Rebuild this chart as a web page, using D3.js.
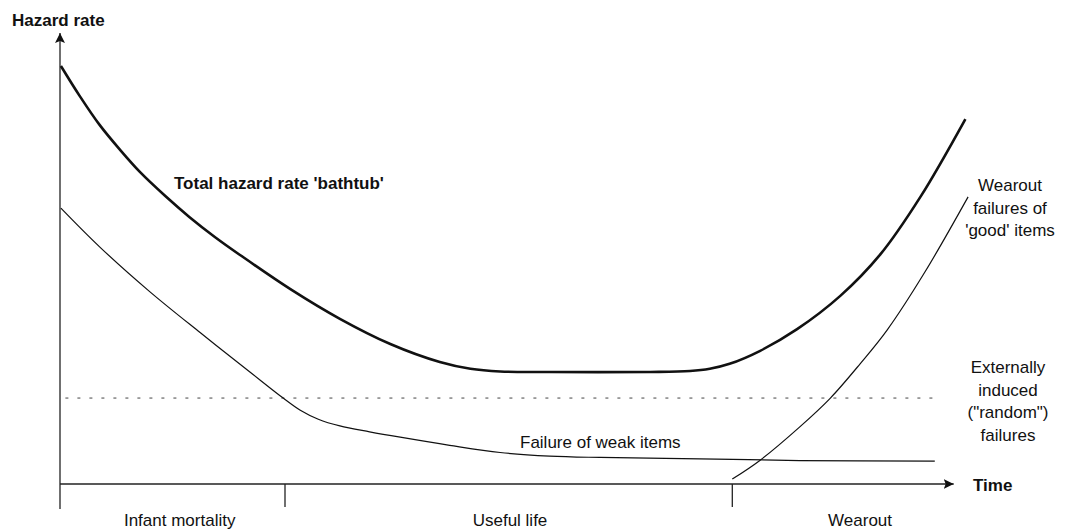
<!DOCTYPE html>
<html>
<head>
<meta charset="utf-8">
<script src="https://cdn.jsdelivr.net/npm/d3@7"></script>
<style>
  html, body { margin: 0; padding: 0; background: #fff; }
  svg { display: block; }
  text { font-family: "Liberation Sans", Arial, Helvetica, sans-serif; fill: #111; }
</style>
</head>
<body>
<svg id="chart" width="1072" height="529"></svg>
<script>
// ---- data (abstract time / hazard units) ----
const bathtubTime   = [0.1, 2.2, 4.4, 6.7, 8.9, 11.7, 14.4, 17.2, 20, 25.6, 31.1, 36.7, 42.2, 45.6, 48.9, 54.4, 65.6, 70, 72.2, 74.4, 77.8, 81.9, 86.7, 91.1, 95.6, 100.6];
const bathtubHazard = [92.9, 86.2, 79.8, 74.2, 69.3, 64, 59.3, 54.9, 50.9, 43.3, 36.7, 31.1, 27.1, 25.6, 25, 24.9, 24.9, 25.1, 25.6, 26.7, 29.6, 34.4, 41.8, 50.9, 63.8, 81.1];

const weakTime   = [0.1, 4.4, 10, 15.6, 21.1, 24.8, 26.7, 28.7, 31.1, 34.4, 37.8, 43.3, 48.9, 54.4, 60, 71.1, 82.2, 97.2];
const weakHazard = [61.3, 52.7, 42.7, 33.6, 24.9, 19.1, 16.4, 14.4, 12.9, 11.6, 10.4, 8.6, 7, 6.2, 5.9, 5.6, 5.2, 5.1];

const wearTime   = [74.7, 77.8, 82.2, 85.6, 88.9, 91.9, 96.1, 100.9];
const wearHazard = [1.1, 5.3, 12.7, 19.1, 26.7, 34.2, 47.1, 63.8];

const randomLevel = 19.1;
const randomSpan  = [0.6, 97.2];

const phaseBounds = [25, 74.7];
const phaseLabels = ["Infant mortality", "Useful life", "Wearout"];
const phaseLabelX = [13.3, 50, 88.9];

const axisLabels = { y: "Hazard rate", x: "Time" };
const curveLabels = {
  bathtub: "Total hazard rate 'bathtub'",
  weak: "Failure of weak items",
  wear: ["Wearout", "failures of", "'good' items"],
  random: ["Externally", "induced", "(\"random\")", "failures"]
};

// ---- scales ----
const x = d3.scaleLinear().domain([0, 100]).range([60, 960]);
const y = d3.scaleLinear().domain([0, 100]).range([484, 34]);

const svg = d3.select("#chart");

svg.append("defs").append("marker")
  .attr("id", "arrow").attr("viewBox", "0 0 10 10")
  .attr("refX", 10).attr("refY", 5)
  .attr("markerWidth", 10).attr("markerHeight", 10)
  .attr("markerUnits", "userSpaceOnUse")
  .attr("orient", "auto")
  .append("path").attr("d", "M0,0 L10,5 L0,10 L2,5 Z").attr("fill", "#111");

// axes
const axisG = svg.append("g").attr("stroke", "#222").attr("stroke-width", 1.3).attr("fill", "none");
axisG.append("line")
  .attr("x1", x(0)).attr("y1", y(0) + 25)
  .attr("x2", x(0)).attr("y2", y(100) - 1)
  .attr("marker-end", "url(#arrow)");
axisG.append("line")
  .attr("x1", x(0)).attr("y1", y(0))
  .attr("x2", x(99.3)).attr("y2", y(0))
  .attr("marker-end", "url(#arrow)");
axisG.selectAll("line.phase").data(phaseBounds).join("line")
  .attr("class", "phase")
  .attr("x1", d => x(d)).attr("x2", d => x(d))
  .attr("y1", y(0)).attr("y2", y(0) + 23);

// dotted random level
svg.append("line")
  .attr("x1", x(randomSpan[0])).attr("x2", x(randomSpan[1]))
  .attr("y1", y(randomLevel)).attr("y2", y(randomLevel))
  .attr("stroke", "#444").attr("stroke-width", 1)
  .attr("stroke-dasharray", "3,9");

const line = d3.line().x(d => x(d[0])).y(d => y(d[1])).curve(d3.curveCatmullRom.alpha(0.5));

svg.append("path")
  .attr("d", line(d3.zip(weakTime, weakHazard)))
  .attr("fill", "none").attr("stroke", "#111").attr("stroke-width", 1.2);

svg.append("path")
  .attr("d", line(d3.zip(wearTime, wearHazard)))
  .attr("fill", "none").attr("stroke", "#111").attr("stroke-width", 1.2);

svg.append("path")
  .attr("d", line(d3.zip(bathtubTime, bathtubHazard)))
  .attr("fill", "none").attr("stroke", "#111").attr("stroke-width", 2.6);

// texts
svg.append("text").attr("x", 12).attr("y", 26)
  .attr("font-size", 17).attr("font-weight", "bold").text(axisLabels.y);
svg.append("text").attr("x", 973).attr("y", y(0) + 7)
  .attr("font-size", 17).attr("font-weight", "bold").text(axisLabels.x);

svg.append("text").attr("x", 174).attr("y", 189)
  .attr("font-size", 17).attr("font-weight", "bold").text(curveLabels.bathtub);

svg.append("text").attr("x", 520).attr("y", 448)
  .attr("font-size", 17).text(curveLabels.weak);

svg.append("g").selectAll("text").data(curveLabels.wear).join("text")
  .attr("x", 1010).attr("y", (d, i) => 191 + i * 22.5)
  .attr("text-anchor", "middle").attr("font-size", 17).text(d => d);

svg.append("g").selectAll("text").data(curveLabels.random).join("text")
  .attr("x", 1008).attr("y", (d, i) => 373 + i * 22.5)
  .attr("text-anchor", "middle").attr("font-size", 17).text(d => d);

svg.append("g").selectAll("text").data(phaseLabels).join("text")
  .attr("x", (d, i) => x(phaseLabelX[i])).attr("y", 526)
  .attr("text-anchor", "middle").attr("font-size", 17).text(d => d);
</script>
</body>
</html>
